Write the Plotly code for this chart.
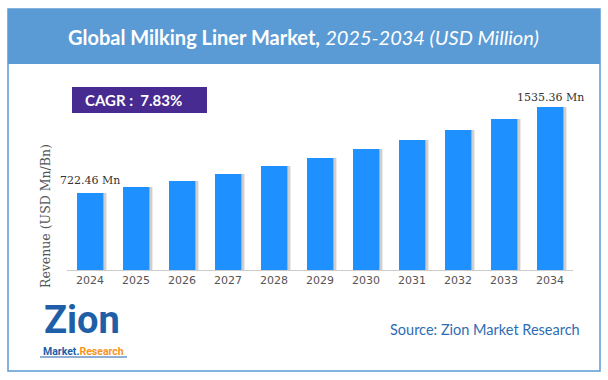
import plotly.graph_objects as go

years = ["2024", "2025", "2026", "2027", "2028", "2029", "2030", "2031", "2032", "2033", "2034"]
revenue = [722.46, 779.0, 840.0, 905.8, 976.7, 1053.2, 1135.6, 1224.5, 1320.4, 1423.8, 1535.36]
first_label = "722.46 Mn"
last_label = "1535.36 Mn"
title_main = "Global Milking Liner Market,"
title_sub = "2025-2034 (USD Million)"
cagr_text = "CAGR :  7.83%"
source_text = "Source: Zion Market Research"
y_title = "Revenue (USD Mn/Bn)"

W, H = 608, 380
def px(x):
    return x / W
def py(y):
    return 1 - y / H

BAR_W = 0.565
fig = go.Figure()
# soft shadow to the right of each bar
for off, op in [(0.09, 0.10), (0.055, 0.16), (0.03, 0.22)]:
    fig.add_trace(go.Bar(
        x=list(range(len(years))), y=revenue, width=BAR_W, offset=-BAR_W / 2 + off,
        marker=dict(color=f"rgba(60,60,60,{op})", line=dict(width=0)),
        hoverinfo="skip", showlegend=False,
    ))
fig.add_trace(go.Bar(
    x=list(range(len(years))), y=revenue, width=BAR_W, offset=-BAR_W / 2,
    marker=dict(color="#1E90FF", line=dict(width=0)),
    hoverinfo="skip", showlegend=False,
))

shapes = [
    # outer frame
    dict(type="rect", xref="paper", yref="paper", x0=px(8), x1=px(600), y0=py(371), y1=py(9),
         line=dict(color="#5B9BD5", width=1.5), fillcolor="rgba(0,0,0,0)", layer="below"),
    # header band
    dict(type="rect", xref="paper", yref="paper", x0=px(8), x1=px(600), y0=py(64), y1=py(9),
         line=dict(width=0), fillcolor="#5B9BD5", layer="below"),
    # CAGR box
    dict(type="rect", xref="paper", yref="paper", x0=px(72), x1=px(207), y0=py(113), y1=py(87),
         line=dict(width=0), fillcolor="#482B90", layer="below"),
    # logo underline
    dict(type="line", xref="paper", yref="paper", x0=px(40), x1=px(127), y0=py(357), y1=py(357),
         line=dict(color="#1F5FA8", width=1)),
]

annotations = [
    dict(text=f"<b>{title_main}</b> <i>{title_sub}</i>", x=px(303), y=py(37), xref="paper", yref="paper",
         showarrow=False, font=dict(family="Lato", size=20, color="white"), xanchor="center", yanchor="middle"),
    dict(text=f"<b>{cagr_text}</b>", x=px(133), y=py(100), xref="paper", yref="paper",
         showarrow=False, font=dict(family="Lato", size=15, color="white"), xanchor="center", yanchor="middle"),
    dict(text=y_title, x=px(45), y=py(216), xref="paper", yref="paper", textangle=-90,
         showarrow=False, font=dict(family="DejaVu Serif", size=12.5, color="#555555"),
         xanchor="center", yanchor="middle"),
    dict(text=first_label, x=0, y=revenue[0], xref="x", yref="y", yshift=13,
         showarrow=False, font=dict(family="DejaVu Serif", size=11, color="#333333"),
         xanchor="center", yanchor="middle"),
    dict(text=last_label, x=len(years) - 1, y=revenue[-1], xref="x", yref="y", yshift=9,
         showarrow=False, font=dict(family="DejaVu Serif", size=11, color="#333333"),
         xanchor="center", yanchor="middle"),
    dict(text=source_text, x=px(388), y=py(329), xref="paper", yref="paper",
         showarrow=False, font=dict(family="Lato", size=14.5, color="#2E6DB4"),
         xanchor="left", yanchor="middle"),
    # logo
    dict(text="<b>Zion</b>", x=px(82), y=py(344), xref="paper", yref="paper",
         showarrow=False, font=dict(family="Roboto", size=38, color="#1F5FA8", weight=900),
         xanchor="center", yanchor="bottom"),
    dict(text="<b>Market.<span style='color:#F7941D'>Research</span></b>", x=px(83), y=py(351),
         xref="paper", yref="paper", showarrow=False,
         font=dict(family="Roboto", size=10.5, color="#1F5FA8"), xanchor="center", yanchor="middle"),
]

fig.update_layout(
    width=W, height=H,
    margin=dict(l=0, r=0, t=0, b=0),
    paper_bgcolor="white", plot_bgcolor="white",
    barmode="overlay",
    bargap=0,
    shapes=shapes,
    annotations=annotations,
    xaxis=dict(
        domain=[px(67), px(573)], range=[-0.5, len(years) - 0.5],
        tickmode="array", tickvals=list(range(len(years))), ticktext=years,
        showline=True, linecolor="#CCCCCC", linewidth=1, showgrid=False, zeroline=False,
        ticks="", tickfont=dict(family="DejaVu Sans", size=11, color="#555555"),
        fixedrange=True,
    ),
    yaxis=dict(
        domain=[py(270), py(85)], range=[0, 1742],
        showticklabels=False, showgrid=False, zeroline=False, showline=False, ticks="",
        fixedrange=True,
    ),
    showlegend=False,
)

fig.write_html("out.html", config={"displayModeBar": False},
               post_script="document.body.style.margin='0';")
